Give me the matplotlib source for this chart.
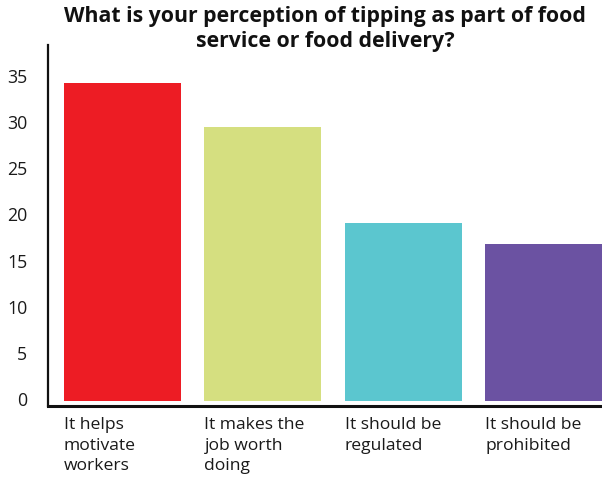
import matplotlib
matplotlib.use("Agg")
import matplotlib.pyplot as plt
import matplotlib.transforms as mtransforms
import numpy as np

categories = ["It helps\nmotivate\nworkers", "It makes the\njob worth\ndoing",
              "It should be\nregulated", "It should be\nprohibited"]
values = [34.4, 29.7, 19.3, 17.0]
colors = ["#ED1C24", "#D5DF80", "#5BC6CF", "#6B52A2"]
yticks = [0, 5, 10, 15, 20, 25, 30, 35]
title = "What is your perception of tipping as part of food\nservice or food delivery?"

FONT = "Open Sans"
W, H = 602, 483
fig = plt.figure(figsize=(W/100, H/100), dpi=100)
ax = fig.add_axes([48/W, 1-406/H, (602-48)/W, (406-45)/H])

x = np.arange(len(categories))
width = 0.833
ax.bar(x, values, width=width, color=colors, zorder=2)
ax.set_xlim(-0.530, 3.413)
ax.set_ylim(-0.49, 38.54)

for s in ["top", "right"]:
    ax.spines[s].set_visible(False)
ax.spines["left"].set_linewidth(1.6)
ax.spines["bottom"].set_linewidth(2.2)
ax.spines["left"].set_color("#111111")
ax.spines["bottom"].set_color("#111111")

ax.set_yticks(yticks)
ax.set_yticklabels([str(v) for v in yticks], fontsize=12.8, family=FONT, color="#1a1a1a")
ax.tick_params(axis="y", length=0, pad=15)
offset = mtransforms.ScaledTranslation(0, 2/100, fig.dpi_scale_trans)
for lbl in ax.get_yticklabels():
    lbl.set_transform(lbl.get_transform() + offset)

ax.set_xticks(x - width/2)
ax.set_xticklabels(categories, fontsize=12.6, family=FONT, color="#1a1a1a",
                   ha="left", va="top", linespacing=1.38)
ax.tick_params(axis="x", length=0, pad=8)

fig.text(325/W, 1-6/H, title, ha="center", va="top", fontsize=15.3, fontweight="bold",
         family=FONT, color="#111111", linespacing=1.25)

fig.savefig("out.png", dpi=100)
